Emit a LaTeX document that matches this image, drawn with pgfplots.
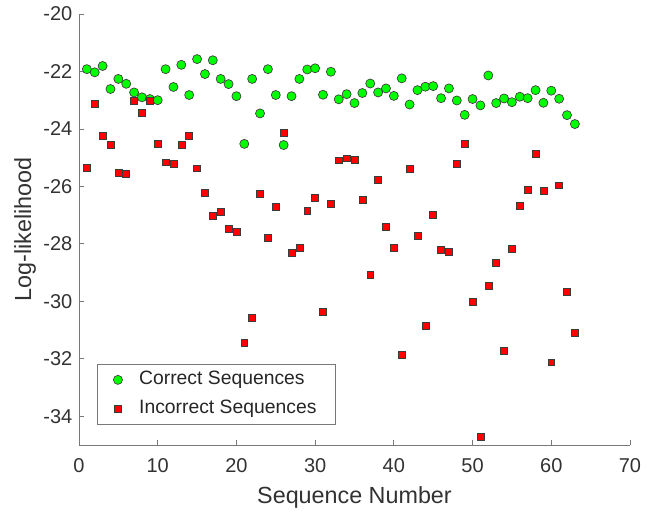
\documentclass[border=0pt]{standalone}
\usepackage{fontspec}
\setmainfont{Liberation Sans}
\usepackage{pgfplots}
\pgfplotsset{compat=1.18}
\definecolor{txt}{RGB}{50,50,50}
\definecolor{axc}{RGB}{120,120,120}
\definecolor{mgreen}{RGB}{0,255,0}
\definecolor{mred}{RGB}{255,0,0}
\definecolor{medge}{RGB}{60,60,60}
\begin{document}
\begin{tikzpicture}
\begin{axis}[
  at={(0pt,0pt)}, anchor=south west,
  scale only axis,
  width=413.25pt, height=323.25pt,
  xmin=0, xmax=70, ymin=-35, ymax=-20,
  xtick={0,10,...,70}, ytick={-34,-32,...,-20},
  axis lines*=left,
  axis line style={axc, line width=0.6pt},
  tick style={axc, line width=0.6pt},
  tick align=inside,
  major tick length=4pt,
  /pgf/number format/assume math mode=true,
  ticklabel style={font=\fontsize{15}{18}\selectfont, text=txt},
  xticklabel style={yshift=-6.5pt},
  yticklabel style={xshift=-1.5pt},
  xlabel={Sequence Number},
  ylabel={Log-likelihood},
  label style={font=\fontsize{17.5}{21}\selectfont, text=txt},
  xlabel style={at={(axis description cs:0.5,-0.1346)}, anchor=base},
  ylabel style={at={(axis description cs:-0.0871,0.5)}, anchor=base, rotate=0},
  legend cell align=left,
  legend style={at={(axis description cs:0.0327,0.0464)}, anchor=south west,
    draw=axc, fill=white, line width=0.6pt,
    font=\fontsize{14.5}{17}\selectfont, text=black!85,
    inner xsep=12pt, inner ysep=3pt,
    nodes={inner sep=2pt, text height=10.5pt, text depth=3pt},
    row sep=4.3pt,
    /tikz/every odd column/.append style={column sep=10.5pt}},
]
\addplot[only marks, mark=*, mark size=3.4pt, mark options={fill=mgreen, draw=medge, line width=0.5pt}]
coordinates {
(1,-21.92)(2,-22.03)(3,-21.81)(4,-22.61)(5,-22.26)(6,-22.43)(7,-22.73)(8,-22.90)(9,-22.96)(10,-23.00)
(11,-21.92)(12,-22.54)(13,-21.77)(14,-22.82)(15,-21.57)(16,-22.09)(17,-21.61)(18,-22.26)(19,-22.44)(20,-22.86)
(21,-24.52)(22,-22.26)(23,-23.46)(24,-21.92)(25,-22.82)(26,-24.56)(27,-22.86)(28,-22.26)(29,-21.93)(30,-21.89)
(31,-22.81)(32,-22.01)(33,-22.97)(34,-22.79)(35,-23.10)(36,-22.75)(37,-22.42)(38,-22.73)(39,-22.59)(40,-22.85)
(41,-22.24)(42,-23.15)(43,-22.65)(44,-22.53)(45,-22.51)(46,-22.93)(47,-22.59)(48,-23.01)(49,-23.51)(50,-22.96)
(51,-23.18)(52,-22.14)(53,-23.10)(54,-22.94)(55,-23.07)(56,-22.88)(57,-22.93)(58,-22.65)(59,-23.09)(60,-22.67)
(61,-22.95)(62,-23.52)(63,-23.83)
};
\addlegendentry{Correct Sequences}
\addplot[only marks, mark=square*, mark size=2.6pt, mark options={fill=mred, draw=medge, line width=0.4pt}]
coordinates {
(1,-25.34)(2,-23.14)(3,-24.23)(4,-24.55)(5,-25.54)(6,-25.57)(7,-23.01)(8,-23.45)(9,-23.02)(10,-24.51)
(11,-25.16)(12,-25.20)(13,-24.55)(14,-24.25)(15,-25.37)(16,-26.23)(17,-27.02)(18,-26.89)(19,-27.49)(20,-27.58)
(21,-31.45)(22,-30.57)(23,-26.26)(24,-27.80)(25,-26.72)(26,-24.13)(27,-28.32)(28,-28.13)(29,-26.86)(30,-26.39)
(31,-30.36)(32,-26.62)(33,-25.09)(34,-25.02)(35,-25.07)(36,-26.45)(37,-29.08)(38,-25.76)(39,-27.39)(40,-28.14)
(41,-31.85)(42,-25.40)(43,-27.72)(44,-30.86)(45,-27.00)(46,-28.20)(47,-28.28)(48,-25.22)(49,-24.52)(50,-30.00)
(51,-34.71)(52,-29.45)(53,-28.66)(54,-31.71)(55,-28.18)(56,-26.68)(57,-26.11)(58,-24.85)(59,-26.14)(60,-32.12)
(61,-25.96)(62,-29.68)(63,-31.09)
};
\addlegendentry{Incorrect Sequences}
\end{axis}
\pgfresetboundingbox
\path[use as bounding box] (-59.25pt,-54pt) rectangle (439.5pt,333.75pt);
\end{tikzpicture}
\end{document}
